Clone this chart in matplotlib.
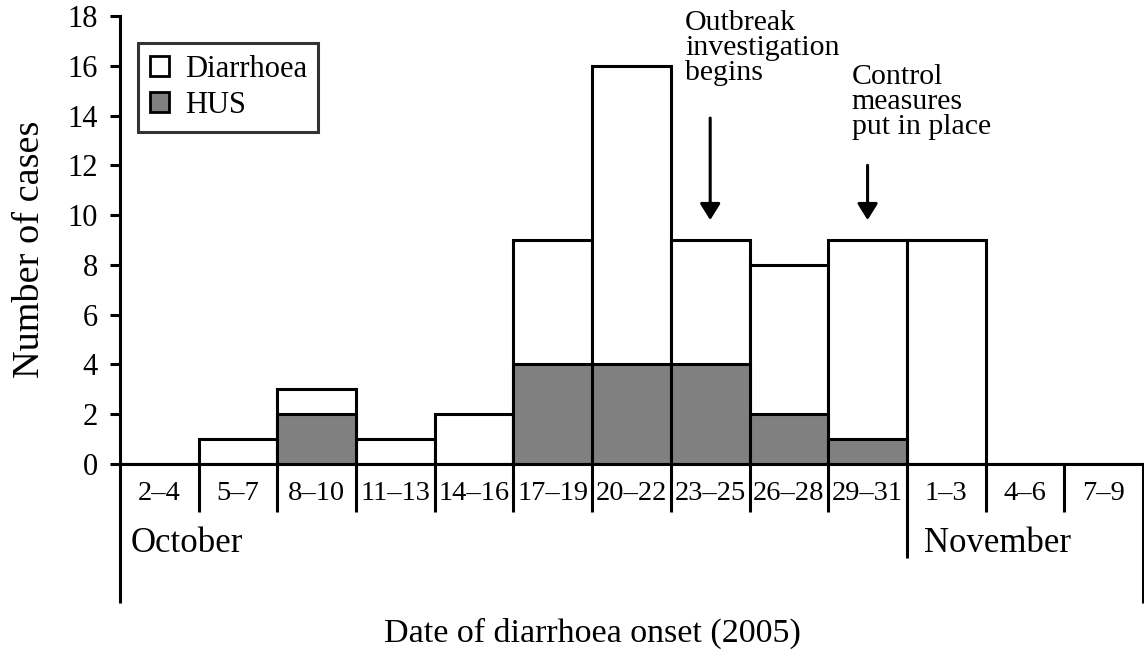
import numpy as np
import matplotlib
matplotlib.use('Agg')
import matplotlib.pyplot as plt
from matplotlib.patches import Patch

plt.rcParams['font.family'] = ['Liberation Serif', 'DejaVu Serif']

# 数据：每三天一组的发病数
periods = ['2–4', '5–7', '8–10', '11–13', '14–16', '17–19', '20–22',
           '23–25', '26–28', '29–31', '1–3', '4–6', '7–9']
diarrhoea_total = [0, 1, 3, 1, 2, 9, 16, 9, 8, 9, 9, 0, 0]
hus = [0, 0, 2, 0, 0, 4, 4, 4, 2, 1, 0, 0, 0]
months = ['October', 'November']
month_start = [0, 10]  # index of first period in each month
events = ['Outbreak\ninvestigation\nbegins', 'Control\nmeasures\nput in place']
event_idx = [7, 9]

LW = 2.2

fig = plt.figure(figsize=(11.44, 6.57), dpi=100)
W, H = 1144, 657
x0, y0, y18 = 120, 464, 16
ax = fig.add_axes([x0 / W, (H - y0) / H, 1023 / W, (y0 - y18) / H])

x = np.arange(len(periods))
ax.bar(x, diarrhoea_total, width=1, align='edge', color='white',
       edgecolor='black', linewidth=LW, zorder=2)
ax.bar(x, hus, width=1, align='edge', color='#808080',
       edgecolor='black', linewidth=LW, zorder=3)

ax.set_xlim(0, len(periods))
ax.set_ylim(0, 18)
ax.set_yticks(range(0, 19, 2))
ax.set_xticks([])
ax.tick_params(axis='y', direction='out', length=7, width=LW,
               labelsize=22, pad=9)
for s in ['top', 'right']:
    ax.spines[s].set_visible(False)
for s in ['left', 'bottom']:
    ax.spines[s].set_linewidth(LW)
    ax.spines[s].set_zorder(4)

# 下方表格式的分隔线
upp = (y0 - y18) / 18.0  # pixels per unit
def py(pix):
    return -(pix - y0) / upp

for i in range(1, len(periods)):
    bottom = py(558) if i == month_start[1] else py(512)
    ax.plot([i, i], [0, bottom], color='black', lw=LW, clip_on=False,
            solid_capstyle='butt', zorder=4)
for xe in [0, len(periods)]:
    ax.plot([xe, xe], [0, py(603)], color='black', lw=LW, clip_on=False,
            solid_capstyle='butt', zorder=4)

for i, p in enumerate(periods):
    ax.text(i + 0.5, py(494), p, ha='center', va='center', fontsize=20.5,
            clip_on=False)

ax.text(month_start[0] + 0.14, py(543), months[0], ha='left', va='center',
        fontsize=25)
ax.text(month_start[1] + 0.22, py(543), months[1], ha='left', va='center',
        fontsize=25)

fig.text(30 / W, 1 - 249 / H, 'Number of cases', rotation=90,
         ha='center', va='center', fontsize=27.5)
fig.text(592 / W, 1 - 633 / H, 'Date of diarrhoea onset (2005)',
         ha='center', va='center', fontsize=24.5)

# 事件箭头
arrow_tail = [13.9, 12]
text_top = [py(10), py(64)]
text_dx = [0.18, 0.3]
for idx, tail, lbl, tt, dx in zip(event_idx, arrow_tail, events, text_top, text_dx):
    ax.annotate('', xy=(idx + 0.5, 9.8), xytext=(idx + 0.5, tail),
                arrowprops=dict(arrowstyle='-|>,head_length=0.45,head_width=0.28',
                                color='black', lw=2.2, mutation_scale=22,
                                shrinkA=0, shrinkB=0),
                annotation_clip=False)
    ax.text(idx + dx, tt, lbl, ha='left', va='top', fontsize=21.5,
            linespacing=0.94, clip_on=False)

handles = [Patch(facecolor='white', edgecolor='black', linewidth=2),
           Patch(facecolor='#808080', edgecolor='black', linewidth=2)]
leg = ax.legend(handles, ['Diarrhoea', 'HUS'], loc='upper left',
                bbox_to_anchor=(18 / 1023, 1 - 27 / 448), fontsize=22,
                frameon=True, fancybox=False, handlelength=0.65,
                handleheight=0.65, handletextpad=0.5, borderpad=0.38,
                labelspacing=0.24, borderaxespad=0)
leg.get_frame().set_edgecolor('black')
leg.get_frame().set_linewidth(LW)

fig.savefig('out.png', dpi=100)
